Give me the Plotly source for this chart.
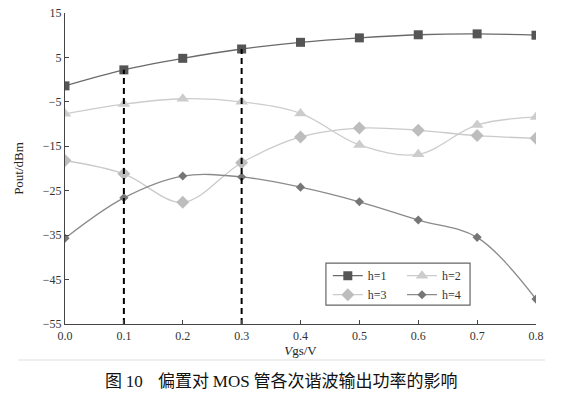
import plotly.graph_objects as go

vgs = [0.0, 0.1, 0.2, 0.3, 0.4, 0.5, 0.6, 0.7, 0.8]
h1 = [-1.4, 2.2, 4.8, 6.9, 8.4, 9.4, 10.1, 10.3, 10.0]
h2 = [-7.7, -5.5, -4.3, -5.0, -7.6, -14.7, -16.8, -10.2, -8.4]
h3 = [-18.2, -21.2, -27.6, -18.7, -12.9, -10.9, -11.4, -12.6, -13.2]
h4 = [-35.7, -26.6, -21.7, -21.9, -24.2, -27.5, -31.6, -35.5, -49.4]
marked_idx = [1, 3]  # Vgs = 0.1 and 0.3
y_ticks = [15, 5, -5, -15, -25, -35, -45, -55]

SERIF = "Liberation Serif, Times New Roman, serif"

fig = go.Figure()

series = [
    ("h=1", h1, "square", 9, "#555555", "#6a6a6a", "legend"),
    ("h=2", h2, "triangle-up", 11, "#cccccc", "#cccccc", "legend2"),
    ("h=3", h3, "diamond", 10, "#bdbdbd", "#cacaca", "legend"),
    ("h=4", h4, "diamond", 7, "#767676", "#8a8a8a", "legend2"),
]
for name, ys, sym, size, mcol, lcol, leg in series:
    fig.add_trace(go.Scatter(
        x=vgs, y=ys, name=name, mode="lines+markers",
        line=dict(color=lcol, width=1.3, shape="spline", smoothing=1.0),
        marker=dict(symbol=sym, size=size, color=mcol),
        legend=leg,
    ))

for i in marked_idx:
    fig.add_trace(go.Scatter(
        x=[vgs[i], vgs[i]], y=[y_ticks[-1], h1[i]], mode="lines",
        line=dict(color="black", width=2, dash="6px,4px"),
        showlegend=False, hoverinfo="skip",
    ))

# legend frame and caption rule
fig.add_shape(type="rect", xref="paper", yref="paper",
              x0=0.554, x1=0.860, y0=0.061, y1=0.196,
              line=dict(color="#666666", width=1.2), fillcolor="rgba(0,0,0,0)", layer="below")
fig.add_shape(type="line", xref="paper", yref="paper",
              x0=-0.0998, x1=1.019, y0=-0.1158, y1=-0.1158,
              line=dict(color="#dddddd", width=1))

SERIF_SPAN = "<span style='font-family:Liberation Serif'>{}</span>"
fig.add_annotation(
    xref="paper", yref="paper", x=0.4586, y=-0.18, xanchor="center", yanchor="middle",
    showarrow=False,
    text="图 " + SERIF_SPAN.format("10") + "    偏置对 " + SERIF_SPAN.format("MOS") + " 管各次谐波输出功率的影响",
    font=dict(family="Noto Sans CJK SC", size=17, color="#111111"),
)

axis_common = dict(
    showline=True, linecolor="#444444", linewidth=1.2,
    ticks="inside", ticklen=4, tickcolor="#444444",
    showgrid=False, zeroline=False, automargin=False,
    ticklabeloverflow="allow",
    tickfont=dict(family=SERIF, size=12, color="#333333"),
)

fig.update_xaxes(range=[0, 0.8], tickvals=vgs, tickformat=".1f",
                 title=dict(text="<i>V</i>gs/V", font=dict(family=SERIF, size=13, color="#222222"), standoff=4),
                 **axis_common)
fig.update_yaxes(range=[-55, 15], tickvals=y_ticks,
                 title=dict(text="Pout/dBm", font=dict(family=SERIF, size=13, color="#222222"), standoff=16),
                 **axis_common)

legend_common = dict(
    bgcolor="rgba(0,0,0,0)", borderwidth=0,
    font=dict(family=SERIF, size=12, color="#333333"),
    orientation="v", xanchor="left", yanchor="top", tracegroupgap=0,
)
# page body has ~8px default margin, so the figure's margins compensate
fig.update_layout(
    width=570, height=396,
    margin=dict(l=57, r=42, t=5, b=80, autoexpand=False),
    paper_bgcolor="white", plot_bgcolor="white",
    showlegend=True,
    legend=dict(x=0.558, y=0.202, **legend_common),
    legend2=dict(x=0.7155, y=0.202, **legend_common),
)

fig.write_html("out.html")
